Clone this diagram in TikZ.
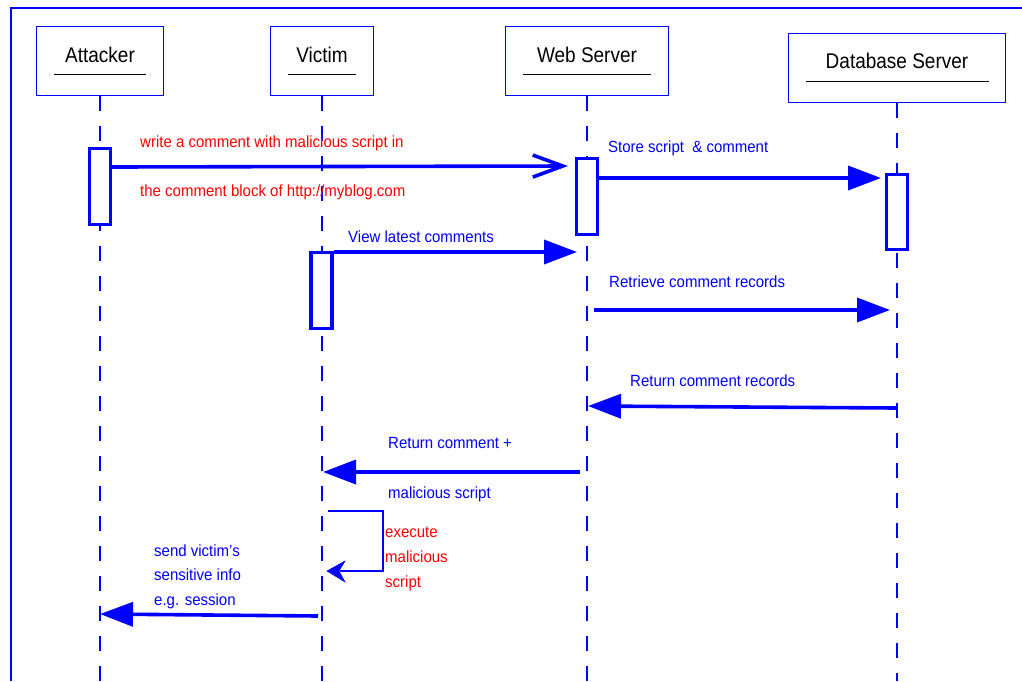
\documentclass[tikz,border=0pt]{standalone}
\usepackage{fontspec}
\setmainfont{Liberation Sans}
\usetikzlibrary{arrows.meta}
\definecolor{ublue}{RGB}{0,0,255}
\definecolor{ured}{RGB}{255,0,0}
\newcommand{\tall}[1]{\scalebox{1}[1.12]{#1}}
\newcommand{\ltall}[1]{\scalebox{1}[1.08]{#1}}
\begin{document}
\begin{tikzpicture}[x=1pt,y=-1pt,
  actor/.style={draw=ublue, line width=1.1pt, fill=white, minimum width=#1, minimum height=69pt, inner sep=0pt},
  title/.style={anchor=base, inner sep=0pt, font=\fontsize{19}{22}\selectfont},
  uline/.style={draw=black, line width=0.9pt},
  life/.style={draw=ublue, line width=1.8pt, dash pattern=on 15pt off 15pt},
  act/.style={draw=ublue, line width=3.4pt, fill=white, minimum width=21pt, minimum height=75.5pt, inner sep=0pt},
  msg/.style={draw=ublue, line width=3.6pt, -{Triangle[length=33pt,width=24pt]}},
  omsg/.style={draw=ublue, line width=3.6pt, -{Straight Barb[length=30pt,width=22pt,line width=3.6pt]}},
  selfmsg/.style={draw=ublue, line width=1.3pt},
  selfhead/.style={fill=ublue, draw=ublue, line width=0.5pt, line join=miter},
  lbl/.style={anchor=base west, inner sep=0pt, font=\fontsize{15}{18}\selectfont, text=ublue},
  rlbl/.style={lbl, text=ured},
]
\useasboundingbox (0,0) rectangle (1022,681);
% frame
\draw[ublue, line width=1.2pt] (11,681) -- (11,8) -- (1022,8);

% participants
\node[actor=127pt] (att) at (100,61) {};
\node[actor=103pt] (vic) at (322,61) {};
\node[actor=163pt] (web) at (587,61) {};
\node[actor=217pt] (db)  at (897,68) {};

\node[title] (attT) at (100,62) {\tall{Attacker}};
\node[title] (vicT) at (322,62) {\tall{Victim}};
\node[title] (webT) at (587,62) {\tall{Web Server}};
\node[title] (dbT)  at (897,68) {\tall{Database Server}};

\draw[uline] (54,74) -- (146,74);
\draw[uline] (288,74) -- (356,74);
\draw[uline] (523,74) -- (651,74);
\draw[uline] (806,81) -- (989,81);

% lifelines
\coordinate (attEnd) at (100,681);
\coordinate (vicEnd) at (322,681);
\coordinate (webEnd) at (587,681);
\coordinate (dbEnd)  at (897,681);
\draw[life] (att.south) -- (attEnd);
\draw[life] (vic.south) -- (vicEnd);
\draw[life] (web.south) -- (webEnd);
\draw[life] (db.south) -- (dbEnd);

% activations
\node[act] (aAct) at (100,186.5) {};
\node[act] (wAct) at (587,196.5) {};
\node[act] (dAct) at (897,212) {};
\node[act] (vAct) at (321.5,290.5) {};

% message end points
\coordinate (m1s) at (112,167);
\coordinate (m1e) at (568,166);
\coordinate (m2s) at (599,178);
\coordinate (m2e) at (881,178);
\coordinate (m3s) at (334,252);
\coordinate (m3e) at (577,252);
\coordinate (m4s) at (594,310);
\coordinate (m4e) at (890,310);
\coordinate (m5s) at (897,408);
\coordinate (m5e) at (588,406);
\coordinate (m6s) at (580,472);
\coordinate (m6e) at (323,472);
\coordinate (m7s) at (328,511);
\coordinate (m7e) at (327,571);
\coordinate (m8s) at (318,616);
\coordinate (m8e) at (100,614);

% messages
\draw[omsg] (m1s) -- (m1e);
\draw[msg] (m2s) -- (m2e);
\draw[msg] (m3s) -- (m3e);
\draw[msg] (m4s) -- (m4e);
\draw[msg] (m5s) -- (m5e);
\draw[msg] (m6s) -- (m6e);
\draw[selfmsg] (m7s) -- (383,511) -- (383,571) -- (340,571);
\fill[selfhead] (m7e) -- (345,561) -- (339,571) -- (345,582) -- cycle;
\draw[msg] (m8s) -- (m8e);

% labels
\node[rlbl] (l1a) at (140,147) {\ltall{write a comment with malicious script in}};
\node[rlbl] (l1b) at (140,196) {\ltall{the comment block of http://myblog.com}};
\node[lbl] (l2) at (608,152) {\ltall{Store script \ \& comment}};
\node[lbl] (l3) at (348,242) {\ltall{View latest comments}};
\node[lbl] (l4) at (609,287) {\ltall{Retrieve comment records}};
\node[lbl] (l5) at (630,386) {\ltall{Return comment records}};
\node[lbl] (l6a) at (388,448) {\ltall{Return comment +}};
\node[lbl] (l6b) at (388,498) {\ltall{malicious script}};
\node[rlbl] (l7a) at (385,537) {\ltall{execute}};
\node[rlbl] (l7b) at (385,562) {\ltall{malicious}};
\node[rlbl] (l7c) at (385,587) {\ltall{script}};
\node[lbl] (l8a) at (154,556) {\ltall{send victim’s}};
\node[lbl] (l8b) at (154,580) {\ltall{sensitive info}};
\node[lbl] (l8c) at (154,605) {\ltall{e.g. session}};
\end{tikzpicture}
\end{document}
